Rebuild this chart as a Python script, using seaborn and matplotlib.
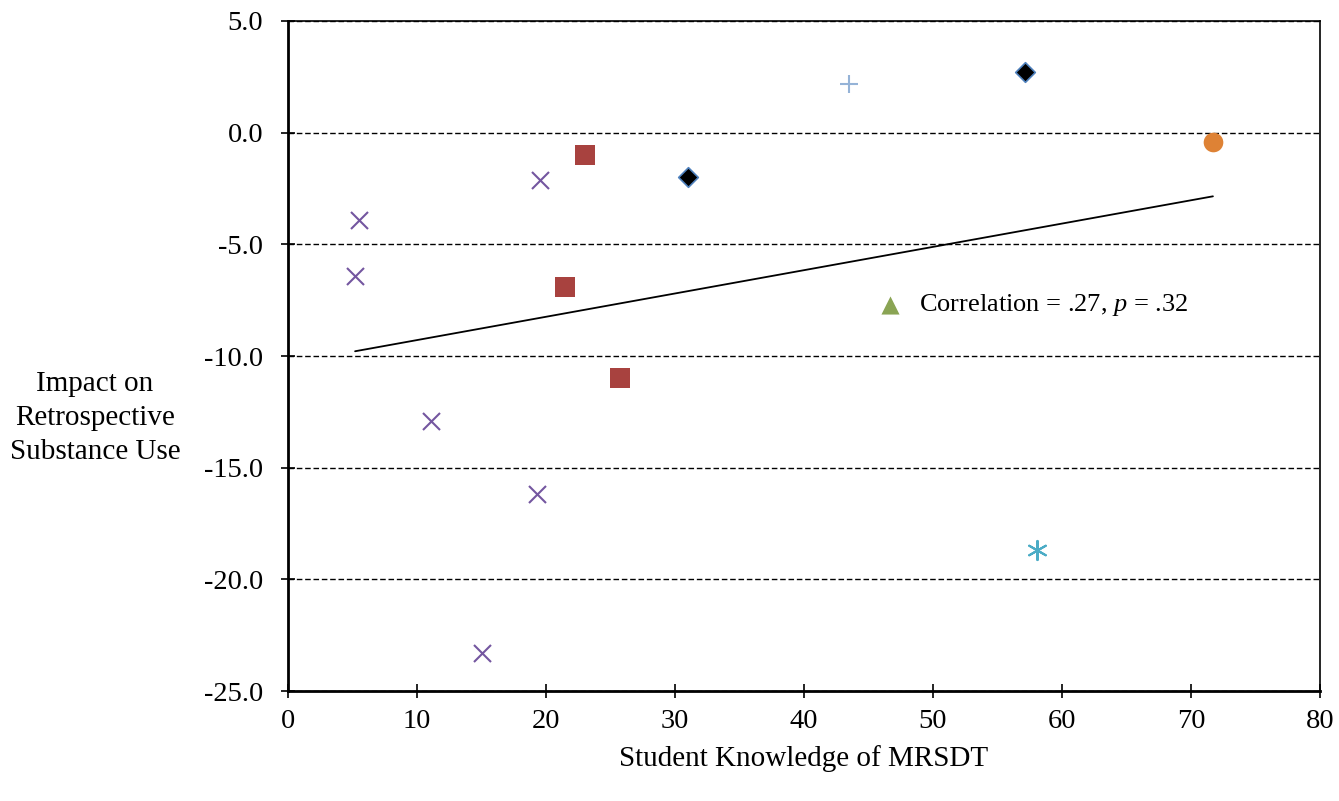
import numpy as np
import pandas as pd
import seaborn as sns
import matplotlib.pyplot as plt

# values
group = ["x"] * 6 + ["square"] * 3 + ["diamond"] * 2 + ["plus", "circle", "star", "triangle"]
knowledge = [5.5, 5.2, 19.5, 11.1, 19.3, 15.0,
             23.0, 21.5, 25.7,
             31.0, 57.1,
             43.5, 71.7, 58.1, 46.7]
impact = [-3.9, -6.4, -2.1, -12.9, -16.2, -23.3,
          -1.0, -6.9, -11.0,
          -2.0, 2.7,
          2.2, -0.4, -18.7, -7.7]
yticks = [5.0, 0.0, -5.0, -10.0, -15.0, -20.0, -25.0]
xticks = [0, 10, 20, 30, 40, 50, 60, 70, 80]

df = pd.DataFrame({"group": group, "knowledge": knowledge, "impact": impact})

sns.set_style("white")
plt.rcParams["font.family"] = ["Liberation Serif", "DejaVu Serif"]
plt.rcParams["text.color"] = "black"
plt.rcParams["mathtext.fontset"] = "custom"
plt.rcParams["mathtext.rm"] = "Liberation Serif"
plt.rcParams["mathtext.it"] = "Liberation Serif:italic"

fig = plt.figure(figsize=(13.39, 8.01), dpi=100)
ax = fig.add_axes([0.2151, 0.1373, 0.7707, 0.8365])

styles = {
    "x": dict(marker="x", color="#7456A0", s=150, linewidth=1.5),
    "square": dict(marker="s", color="#A8423F", s=190, linewidth=0),
    "diamond": dict(marker="D", color="black", edgecolor="#4F81BD", s=100, linewidth=1.2),
    "plus": dict(marker="+", color="#95B3D7", s=160, linewidth=1.5),
    "circle": dict(marker="o", color="#DE8235", s=200, linewidth=0),
    "star": dict(marker=(6, 2, 0), color="#4BACC6", s=190, linewidth=1.5),
    "triangle": dict(marker="^", color="#8AA454", s=170, linewidth=0),
}
for g, kw in styles.items():
    sub = df[df["group"] == g]
    sns.scatterplot(data=sub, x="knowledge", y="impact", ax=ax, zorder=3, legend=False, **kw)

# linear trend line over all plotted points
slope, icpt = np.polyfit(df["knowledge"], df["impact"], 1)
xs = np.array([df["knowledge"].min(), df["knowledge"].max()])
sns.lineplot(x=xs, y=slope * xs + icpt, ax=ax, color="black", linewidth=1.3, zorder=2)

tri = df[df["group"] == "triangle"].iloc[0]
ax.text(tri["knowledge"] + 2.2, tri["impact"], "Correlation = .27, $p$ = .32",
        fontsize=19, va="center", ha="left")

for yv in yticks:
    ax.axhline(yv, color="black", linestyle=(0, (4, 2)), linewidth=1.0, zorder=1)

ax.set_xlim(0, 80)
ax.set_ylim(-25, 5)
ax.set_xticks(xticks)
ax.set_yticks(yticks)
ax.set_xticklabels([str(v) for v in xticks])
ax.set_yticklabels([f"{v:.1f}" for v in yticks])
ax.tick_params(axis="both", which="both", direction="inout", length=10, width=1.2,
               labelsize=20.5, colors="black", left=True, bottom=True)
ax.tick_params(axis="x", pad=8)
ax.tick_params(axis="y", pad=13)
for side in ["left", "bottom"]:
    ax.spines[side].set_linewidth(2.0)
for side in ["right", "top"]:
    ax.spines[side].set_linewidth(1.2)
for sp in ax.spines.values():
    sp.set_color("black")
ax.set_xlabel("")
ax.set_ylabel("")

fig.text(0.6004, 0.053, "Student Knowledge of MRSDT", fontsize=21, ha="center", va="center")
fig.text(0.071, 0.478, "Impact on\nRetrospective\nSubstance Use", fontsize=21,
         ha="center", va="center", linespacing=1.4)

fig.savefig("out.png", dpi=100)
